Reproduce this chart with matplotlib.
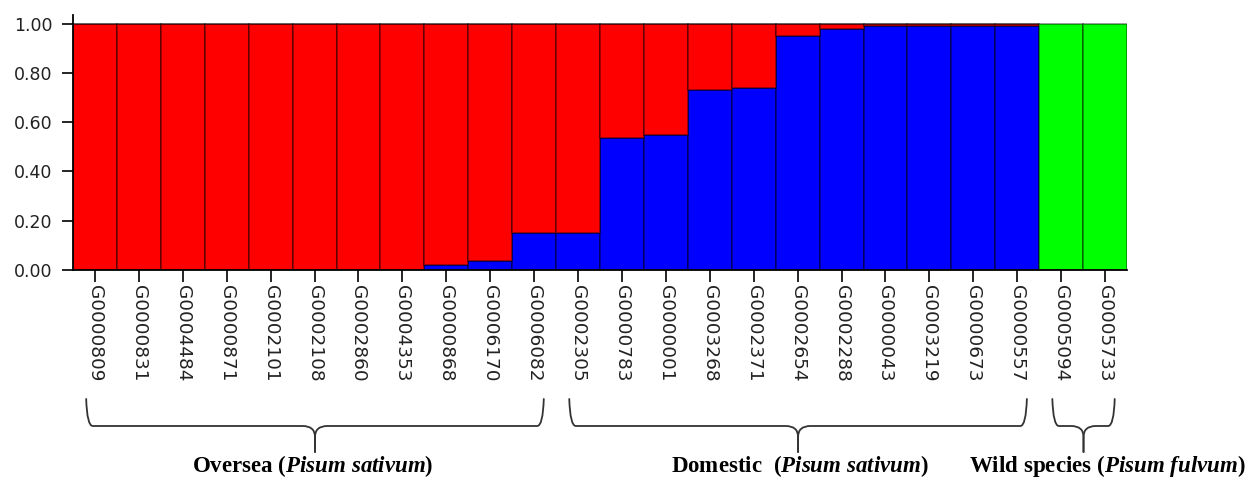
import matplotlib
matplotlib.use("Agg")
import matplotlib.pyplot as plt
import matplotlib.transforms as mtransforms
from matplotlib.path import Path
from matplotlib.patches import PathPatch
import numpy as np

samples = ["G0000809", "G0000831", "G0004484", "G0000871", "G0002101", "G0002108",
           "G0002860", "G0004353", "G0000868", "G0006170", "G0006082", "G0002305",
           "G0000783", "G0000001", "G0003268", "G0002371", "G0002654", "G0002288",
           "G0000043", "G0003219", "G0000673", "G0000557", "G0005094", "G0005733"]
blue = [0, 0, 0, 0, 0, 0, 0, 0, 0.02, 0.035, 0.15, 0.15,
        0.537, 0.549, 0.73, 0.737, 0.95, 0.978, 0.992, 0.992, 0.992, 0.992, 0, 0]
green = [0]*22 + [1.0, 1.0]
red = [round(1 - b - g, 3) for b, g in zip(blue, green)]
groups = [(0, 10, r"$\mathrm{Oversea\ (}\mathit{Pisum\ sativum}\mathrm{)}$"),
          (11, 21, r"$\mathrm{Domestic\ \ (}\mathit{Pisum\ sativum}\mathrm{)}$"),
          (22, 23, r"$\mathrm{Wild\ species\ (}\mathit{Pisum\ fulvum}\mathrm{)}$")]
yticks = [0.0, 0.2, 0.4, 0.6, 0.8, 1.0]

plt.rcParams['mathtext.fontset'] = 'custom'
plt.rcParams['mathtext.rm'] = 'Liberation Serif:bold'
plt.rcParams['mathtext.bf'] = 'Liberation Serif:bold'
plt.rcParams['mathtext.it'] = 'Liberation Serif:italic:bold'

W, H = 1251, 478
fig = plt.figure(figsize=(W/100, H/100), dpi=100)
ax = fig.add_axes([73/W, 1-270/H, (1127-73)/W, (270-15)/H])

x = np.arange(len(samples))
ec = (0, 0, 0, 0.45)
ax.bar(x, blue, width=1.0, color='#0000FF', edgecolor=ec, linewidth=1.2)
ax.bar(x, red, width=1.0, bottom=blue, color='#FF0000', edgecolor=ec, linewidth=1.2)
bot2 = [b + r for b, r in zip(blue, red)]
ax.bar(x, green, width=1.0, bottom=bot2, color='#00FF00', edgecolor=ec, linewidth=1.2)

ax.set_xlim(-0.5, len(samples) - 0.5)
ax.set_ylim(0, 1.035)
ax.set_yticks(yticks)
ax.set_yticklabels([f"{v:.2f}" for v in yticks], fontsize=12.5, color='#222222',
                   family='DejaVu Sans')
ax.set_xticks(x)
ax.set_xticklabels(samples, rotation=270, fontsize=13.3, color='#222222',
                   family='DejaVu Sans', ha='center', va='top')
ax.tick_params(axis='y', length=8, width=1.2, pad=7)
ax.tick_params(axis='x', length=8.5, width=1.2, pad=2.5)
for s in ['top', 'right']:
    ax.spines[s].set_visible(False)
for s in ['left', 'bottom']:
    ax.spines[s].set_linewidth(1.3)

trans = mtransforms.blended_transform_factory(ax.transData, fig.transFigure)

def fy(py):
    return 1 - py / H

for first, last, label in groups:
    x0 = first - 0.2
    x1 = last + 0.22
    xm = (x0 + x1) / 2
    yt, yh, yv, ytip = fy(399), fy(426), fy(437), fy(452)
    c = 0.15
    d = 0.28
    codes = [Path.MOVETO, Path.CURVE3, Path.CURVE3, Path.LINETO,
             Path.CURVE3, Path.CURVE3, Path.LINETO]
    for xe, sgn in ((x0, 1), (x1, -1)):
        verts = [(xe, yt), (xe + sgn * 0.02, yh), (xe + sgn * c, yh),
                 (xm - sgn * d, yh), (xm, yh), (xm, yv), (xm, ytip)]
        fig.add_artist(PathPatch(Path(verts, codes), transform=trans, fill=False,
                                 edgecolor='#333333', linewidth=1.3,
                                 clip_on=False, capstyle='round'))

label_x = [313, 800, 1107]
for (first, last, label), lx in zip(groups, label_x):
    fig.text(lx / W, fy(466), label, ha='center', va='center', fontsize=16.5,
             color='black')

fig.savefig("out.png", dpi=100)
